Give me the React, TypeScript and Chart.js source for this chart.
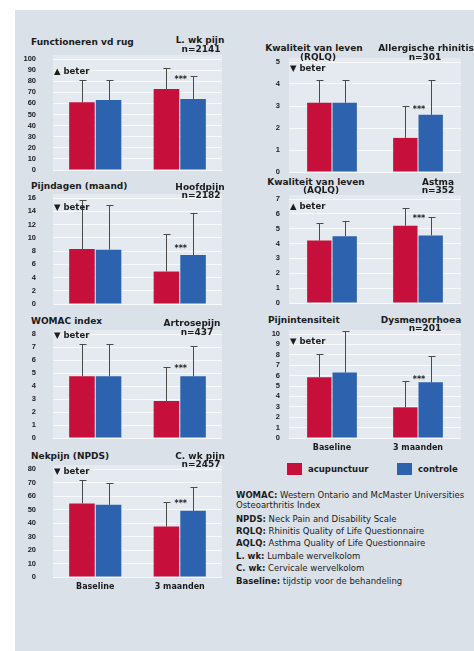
import React, { useEffect, useRef } from "react";
import { Chart, registerables } from "chart.js";
Chart.register(...registerables);

const categories = ["Baseline", "3 maanden"];
const seriesNames = ["acupunctuur", "controle"];

// Functioneren vd rug (L. wk pijn)
const rugAcu = [61, 73];
const rugCtrl = [63, 64];
const rugAcuErr = [81, 92];
const rugCtrlErr = [81, 85];
const rugTicks = [0, 100, 10];

// Pijndagen (Hoofdpijn)
const hoofdAcu = [8.3, 4.9];
const hoofdCtrl = [8.2, 7.4];
const hoofdAcuErr = [15.7, 10.5];
const hoofdCtrlErr = [15, 13.8];
const hoofdTicks = [0, 16, 2];

// WOMAC index (Artrosepijn)
const womacAcu = [4.75, 2.85];
const womacCtrl = [4.75, 4.75];
const womacAcuErr = [7.2, 5.5];
const womacCtrlErr = [7.2, 7.05];
const womacTicks = [0, 8, 1];

// Nekpijn NPDS (C. wk pijn)
const nekAcu = [54.5, 37.5];
const nekCtrl = [53.5, 49];
const nekAcuErr = [72, 55.5];
const nekCtrlErr = [70, 67];
const nekTicks = [0, 80, 10];

// RQLQ (Allergische rhinitis)
const rqlqAcu = [3.15, 1.55];
const rqlqCtrl = [3.15, 2.6];
const rqlqAcuErr = [4.2, 3.0];
const rqlqCtrlErr = [4.2, 4.2];
const rqlqTicks = [0, 5, 1];

// AQLQ (Astma)
const aqlqAcu = [4.2, 5.2];
const aqlqCtrl = [4.5, 4.55];
const aqlqAcuErr = [5.4, 6.4];
const aqlqCtrlErr = [5.5, 5.8];
const aqlqTicks = [0, 7, 1];

// Pijnintensiteit (Dysmenorrhoea)
const dysAcu = [5.85, 2.95];
const dysCtrl = [6.3, 5.35];
const dysAcuErr = [8.1, 5.5];
const dysCtrlErr = [10.3, 7.85];
const dysTicks = [0, 10, 1];

// significance markers (value position) and labels
const starValues = [82, 8.4, 5.4, 54.7, 2.85, 5.7, 5.7];
const starLabel = "***";
const beterUp = "\u25B2 beter";
const beterDown = "\u25BC beter";

const RED = "#c70f3b";
const BLUE = "#2c62ae";
const TEXT = "#1c1c1c";
const FONT = "'DejaVu Sans', Verdana, sans-serif";
const NARROW = "'Liberation Sans Narrow', 'Liberation Sans', Arial, sans-serif";

const extrasPlugin = {
  id: "extras",
  beforeDraw(chart: any) {
    const { ctx, chartArea } = chart;
    ctx.save();
    ctx.fillStyle = "#e5eaf0";
    ctx.fillRect(chartArea.left, chartArea.top - 4, chartArea.right - chartArea.left, chartArea.bottom - chartArea.top + 4);
    ctx.restore();
  },
  afterDatasetsDraw(chart: any, _args: any, opts: any) {
    const { ctx, chartArea } = chart;
    const y = chart.scales.y;
    ctx.save();
    ctx.strokeStyle = "#4a4a4a";
    ctx.lineWidth = 1;
    [opts.errAcu, opts.errCtrl].forEach((errs: number[], di: number) => {
      const meta = chart.getDatasetMeta(di);
      meta.data.forEach((el: any, j: number) => {
        const x = Math.round(el.x) + 0.5;
        const ye = Math.round(y.getPixelForValue(errs[j])) + 0.5;
        ctx.beginPath();
        ctx.moveTo(x, el.y);
        ctx.lineTo(x, ye);
        ctx.moveTo(x - 3, ye);
        ctx.lineTo(x + 4, ye);
        ctx.stroke();
      });
    });
    const a = chart.getDatasetMeta(0).data[1];
    const b = chart.getDatasetMeta(1).data[1];
    ctx.fillStyle = TEXT;
    ctx.font = `bold 8px ${FONT}`;
    ctx.textAlign = "center";
    ctx.textBaseline = "middle";
    ctx.fillText(starLabel, (a.x + b.x) / 2 + 1, y.getPixelForValue(opts.star) + 1);
    ctx.font = `bold 8.5px ${FONT}`;
    ctx.textAlign = "left";
    ctx.fillText(opts.beter, chartArea.left + 1, chartArea.top + opts.beterOff);
    ctx.restore();
  },
};

type Cfg = {
  acu: number[]; ctrl: number[]; errAcu: number[]; errCtrl: number[]; ticks: number[];
  star: number; beter: string; beterOff: number;
  x: number; y: number; w: number; h: number; yw: number; yp: number; xh: number; pb: number; pt: number; cp: number; showX: boolean;
};

function Panel({ c }: { c: Cfg }) {
  const ref = useRef<HTMLCanvasElement>(null);
  useEffect(() => {
    const chart = new Chart(ref.current as HTMLCanvasElement, {
      type: "bar",
      data: {
        labels: categories,
        datasets: [
          { label: seriesNames[0], data: c.acu, backgroundColor: RED, categoryPercentage: c.cp, barPercentage: 0.96 },
          { label: seriesNames[1], data: c.ctrl, backgroundColor: BLUE, categoryPercentage: c.cp, barPercentage: 0.96 },
        ],
      },
      options: {
        responsive: false,
        animation: false,
        devicePixelRatio: 1,
        layout: { padding: { top: c.pt, right: 0, bottom: c.pb, left: 0 } },
        plugins: {
          legend: { display: false },
          tooltip: { enabled: false },
          extras: { errAcu: c.errAcu, errCtrl: c.errCtrl, star: c.star, beter: c.beter, beterOff: c.beterOff },
        } as any,
        scales: {
          x: {
            grid: { display: false, drawTicks: false },
            border: { display: false },
            ticks: { display: c.showX, color: TEXT, font: { family: FONT, size: 8, weight: "bold" }, padding: 5 },
            afterFit: (s: any) => { s.height = c.xh; },
          },
          y: {
            min: c.ticks[0],
            max: c.ticks[1],
            ticks: { stepSize: c.ticks[2], autoSkip: false, color: TEXT, font: { family: NARROW, size: 7.5, weight: "bold" }, padding: c.yp },
            grid: { color: "#f7f9fb", drawTicks: false, lineWidth: 1 },
            border: { display: false },
            afterFit: (s: any) => { s.width = c.yw; s.paddingTop = 3; s.paddingBottom = 3; },
          },
        },
      },
      plugins: [extrasPlugin],
    } as any);
    return () => chart.destroy();
  }, []);
  return (
    <canvas ref={ref} width={c.w} height={c.h}
      style={{ position: "absolute", left: c.x, top: c.y, width: c.w, height: c.h }} />
  );
}

const L = { x: 20, w: 202, yw: 33, yp: 17, cp: 0.63, pt: 7 };
const R = { x: 250, w: 211, yw: 39, yp: 9, cp: 0.59, pt: 7 };

const panels: Cfg[] = [
  { ...L, acu: rugAcu, ctrl: rugCtrl, errAcu: rugAcuErr, errCtrl: rugCtrlErr, ticks: rugTicks, star: starValues[0], beter: beterUp, beterOff: 13, y: 52, h: 123, xh: 0, pb: 5, showX: false },
  { ...L, acu: hoofdAcu, ctrl: hoofdCtrl, errAcu: hoofdAcuErr, errCtrl: hoofdCtrlErr, ticks: hoofdTicks, star: starValues[1], beter: beterDown, beterOff: 10, y: 191, h: 118, xh: 0, pb: 5, showX: false },
  { ...L, acu: womacAcu, ctrl: womacCtrl, errAcu: womacAcuErr, errCtrl: womacCtrlErr, ticks: womacTicks, star: starValues[2], beter: beterDown, beterOff: 2, y: 327, h: 116, xh: 0, pb: 5, showX: false },
  { ...L, acu: nekAcu, ctrl: nekCtrl, errAcu: nekAcuErr, errCtrl: nekCtrlErr, ticks: nekTicks, star: starValues[3], beter: beterDown, beterOff: 3, y: 462, h: 137, xh: 20, pb: 2, showX: true },
  { ...R, acu: rqlqAcu, ctrl: rqlqCtrl, errAcu: rqlqAcuErr, errCtrl: rqlqCtrlErr, ticks: rqlqTicks, star: starValues[4], beter: beterDown, beterOff: 7, y: 55, h: 122, xh: 0, pb: 5, showX: false },
  { ...R, acu: aqlqAcu, ctrl: aqlqCtrl, errAcu: aqlqAcuErr, errCtrl: aqlqCtrlErr, ticks: aqlqTicks, star: starValues[5], beter: beterUp, beterOff: 8, y: 192, h: 116, xh: 0, pb: 5, showX: false },
  { ...R, acu: dysAcu, ctrl: dysCtrl, errAcu: dysAcuErr, errCtrl: dysCtrlErr, ticks: dysTicks, star: starValues[6], beter: beterDown, beterOff: 8, y: 327, h: 133, xh: 20, pb: 2, showX: true },
];

type T = { t: string; x: number; y: number; a?: "l" | "c" };
const titles: T[] = [
  { t: "Functioneren vd rug", x: 31, y: 42 },
  { t: "L. wk pijn", x: 200, y: 40, a: "c" },
  { t: "n=2141", x: 201, y: 49, a: "c" },
  { t: "Pijndagen (maand)", x: 31, y: 186 },
  { t: "Hoofdpijn", x: 200, y: 187, a: "c" },
  { t: "n=2182", x: 201, y: 195, a: "c" },
  { t: "WOMAC index", x: 31, y: 321 },
  { t: "Artrosepijn", x: 192, y: 323, a: "c" },
  { t: "n=437", x: 197, y: 332, a: "c" },
  { t: "Nekpijn (NPDS)", x: 31, y: 456 },
  { t: "C. wk pijn", x: 200, y: 456, a: "c" },
  { t: "n=2457", x: 201, y: 464, a: "c" },
  { t: "Kwaliteit van leven", x: 314, y: 48, a: "c" },
  { t: "(RQLQ)", x: 318, y: 57, a: "c" },
  { t: "Allergische rhinitis", x: 426, y: 48, a: "c" },
  { t: "n=301", x: 425, y: 57, a: "c" },
  { t: "Kwaliteit van leven", x: 316, y: 182, a: "c" },
  { t: "(AQLQ)", x: 321, y: 190, a: "c" },
  { t: "Astma", x: 438, y: 182, a: "c" },
  { t: "n=352", x: 438, y: 190, a: "c" },
  { t: "Pijnintensiteit", x: 268, y: 320 },
  { t: "Dysmenorrhoea", x: 421, y: 320, a: "c" },
  { t: "n=201", x: 425, y: 328, a: "c" },
];

const notes: [string, string, number][] = [
  ["WOMAC:", " Western Ontario and McMaster Universities", 495],
  ["", "Osteoarthritis Index", 505],
  ["NPDS:", " Neck Pain and Disability Scale", 519],
  ["RQLQ:", " Rhinitis Quality of Life Questionnaire", 531],
  ["AQLQ:", " Asthma Quality of Life Questionnaire", 543],
  ["L. wk:", " Lumbale wervelkolom", 556],
  ["C. wk:", " Cervicale wervelkolom", 568],
  ["Baseline:", " tijdstip voor de behandeling", 581],
];

export default function App() {
  return (
    <div style={{ position: "absolute", left: 0, top: 0, width: 474, height: 651, overflow: "hidden", background: "#ffffff", fontFamily: FONT, color: TEXT }}>
      <div style={{ position: "absolute", left: 15, top: 10, right: 0, bottom: 0, background: "#dae1e9" }} />
      {panels.map((p, i) => <Panel key={i} c={p} />)}
      {titles.map((t, i) => (
        <div key={i} style={{
          position: "absolute", left: t.x, top: t.y - 5, lineHeight: "10px", fontSize: 9, fontWeight: "bold",
          whiteSpace: "nowrap", transform: t.a === "c" ? "translateX(-50%)" : undefined,
        }}>{t.t}</div>
      ))}
      <div style={{ position: "absolute", left: 287, top: 463, width: 15, height: 12, background: RED }} />
      <div style={{ position: "absolute", left: 308, top: 464, lineHeight: "10px", fontSize: 8.5, fontWeight: "bold", whiteSpace: "nowrap" }}>{seriesNames[0]}</div>
      <div style={{ position: "absolute", left: 397, top: 463, width: 15, height: 12, background: BLUE }} />
      <div style={{ position: "absolute", left: 418, top: 464, lineHeight: "10px", fontSize: 8.5, fontWeight: "bold", whiteSpace: "nowrap" }}>{seriesNames[1]}</div>
      {notes.map((n, i) => (
        <div key={i} style={{ position: "absolute", left: 236, top: n[2] - 5, lineHeight: "10px", fontSize: 8.5, whiteSpace: "nowrap" }}>
          <b>{n[0]}</b>{n[1]}
        </div>
      ))}
    </div>
  );
}
